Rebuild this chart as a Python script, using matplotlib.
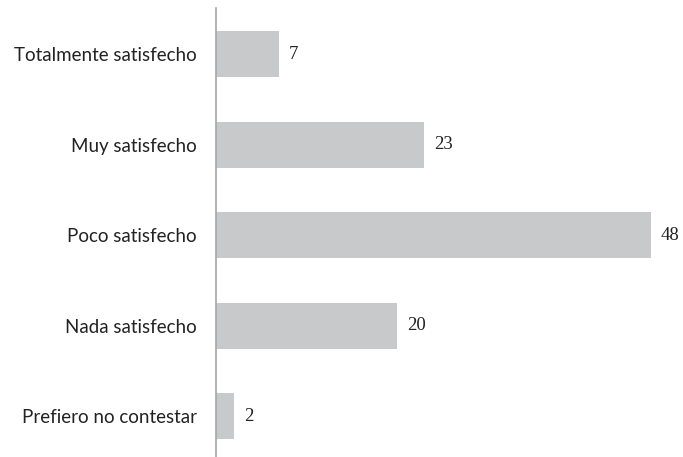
import matplotlib
matplotlib.use('Agg')
import matplotlib.pyplot as plt

categorias = ['Totalmente satisfecho', 'Muy satisfecho', 'Poco satisfecho',
              'Nada satisfecho', 'Prefiero no contestar']
valores = [7, 23, 48, 20, 2]

fig = plt.figure(figsize=(6.83, 4.57), dpi=100)
ax = fig.add_axes([216 / 683, 0, (651 - 216) / 683, 1 - 8 / 457])

pos = list(range(len(categorias)))
ax.barh(pos, valores, height=0.51, color='#C8C9CB', edgecolor='none')

ax.set_xlim(0, 48)
ax.set_ylim(4.45, -0.51)

# etiquetas de valor al final de cada barra
for p, v in zip(pos, valores):
    ax.annotate(str(v), xy=(v, p), xytext=(7, 0), textcoords='offset points',
                ha='left', va='center', fontsize=13.5, family='Liberation Serif',
                color='#222222', annotation_clip=False)

ax.set_yticks(pos)
ax.set_yticklabels(categorias, fontsize=13.5, family='Lato', color='#222222')
ax.tick_params(axis='y', length=0, pad=14)
ax.set_xticks([])

for s in ['top', 'right', 'bottom']:
    ax.spines[s].set_visible(False)
ax.spines['left'].set_color('#A6A6A6')
ax.spines['left'].set_linewidth(1.2)

fig.savefig('out.png', dpi=100)
